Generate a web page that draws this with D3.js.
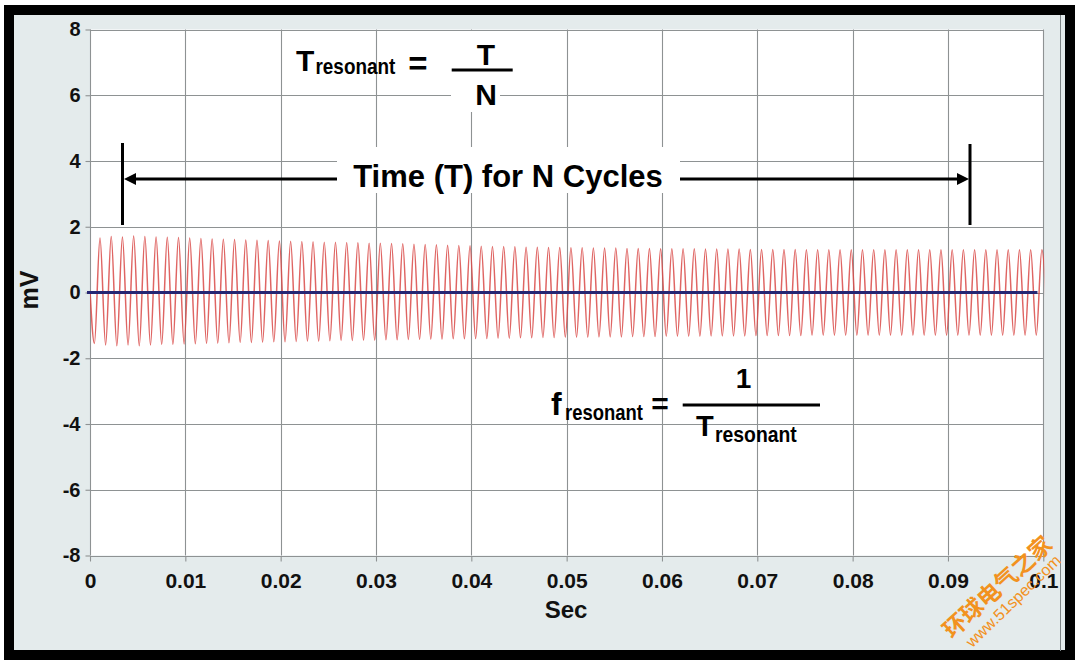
<!DOCTYPE html>
<html><head><meta charset="utf-8">
<script src="https://cdn.jsdelivr.net/npm/d3@7"></script>
<style>html,body{margin:0;padding:0;background:#fff;} svg{display:block;}</style>
</head><body><svg id="c" width="1080" height="666"></svg>
<script>
// ---------------- data ----------------
const xTicks = [0, 0.01, 0.02, 0.03, 0.04, 0.05, 0.06, 0.07, 0.08, 0.09, 0.1];
const xTickLabels = ["0", "0.01", "0.02", "0.03", "0.04", "0.05", "0.06", "0.07", "0.08", "0.09", "0.1"];
const yTicks = [-8, -6, -4, -2, 0, 2, 4, 6, 8];
const yTickLabels = ["-8", "-6", "-4", "-2", "0", "2", "4", "6", "8"];
const xTitle = "Sec";
const yTitle = "mV";
// measured timing of the ringing waveform (s)
const firstPeakTime = 0.00105;
const cyclePeriod = 0.0011762;
const startValue = 0.05;
// successive positive peaks (mV)
const peakValues = [
  1.66,1.70,1.69,1.72,1.70,1.69,1.68,1.67,1.66,1.64,
  1.63,1.62,1.61,1.60,1.59,1.58,1.57,1.56,1.55,1.54,
  1.53,1.53,1.52,1.51,1.50,1.50,1.49,1.48,1.47,1.46,
  1.45,1.44,1.43,1.42,1.41,1.40,1.40,1.39,1.38,1.38,
  1.37,1.37,1.36,1.36,1.35,1.35,1.35,1.34,1.34,1.34,
  1.33,1.33,1.33,1.33,1.32,1.32,1.32,1.32,1.31,1.31,
  1.31,1.31,1.31,1.30,1.30,1.30,1.30,1.30,1.30,1.30,
  1.30,1.30,1.30,1.30,1.30,1.30,1.30,1.30,1.30,1.30,
  1.30,1.30,1.30,1.30,1.30];
// successive negative troughs (mV), the first one precedes the first peak
const troughValues = [
  -1.55,-1.60,-1.62,-1.60,-1.62,-1.60,-1.58,-1.58,-1.57,-1.56,
  -1.55,-1.54,-1.53,-1.52,-1.52,-1.51,-1.50,-1.50,-1.49,-1.48,
  -1.48,-1.47,-1.46,-1.46,-1.45,-1.45,-1.44,-1.44,-1.43,-1.43,
  -1.42,-1.42,-1.41,-1.41,-1.40,-1.40,-1.39,-1.39,-1.38,-1.38,
  -1.37,-1.37,-1.36,-1.36,-1.36,-1.35,-1.35,-1.35,-1.34,-1.34,
  -1.34,-1.33,-1.33,-1.33,-1.33,-1.32,-1.32,-1.32,-1.32,-1.31,
  -1.31,-1.31,-1.31,-1.31,-1.30,-1.30,-1.30,-1.30,-1.30,-1.30,
  -1.30,-1.30,-1.30,-1.30,-1.30,-1.30,-1.30,-1.30,-1.30,-1.30,
  -1.30,-1.30,-1.30,-1.30,-1.30,-1.30];
const baselineSeries = [[0, 0], [0.0997, 0]];

// ---------------- drawing ----------------
const svg = d3.select("#c");
const FONT = "'Liberation Sans', Arial, Helvetica, sans-serif";

// frame
svg.append("rect").attr("x", 0).attr("y", 0).attr("width", 1080).attr("height", 666).attr("fill", "#fff");
svg.append("rect").attr("x", 9).attr("y", 10).attr("width", 1061).attr("height", 645)
  .attr("fill", "#e4ebec").attr("stroke", "#000").attr("stroke-width", 10);
svg.append("line").attr("x1", 1060.5).attr("x2", 1060.5).attr("y1", 15).attr("y2", 651)
  .attr("stroke", "#7d8486").attr("stroke-width", 1);

const x = d3.scaleLinear().domain([0, 0.1]).range([90, 1043.3]);
const y = d3.scaleLinear().domain([-8, 8]).range([555.5, 29.5]);

const [x0, x1] = x.range(), [y0, y1] = y.range();
svg.append("rect").attr("x", x0).attr("y", y1).attr("width", x1 - x0).attr("height", y0 - y1).attr("fill", "#fff");

const gridColor = "#8e9293";
const grid = svg.append("g");
grid.selectAll("line.v").data(xTicks).enter().append("line")
  .attr("x1", d => Math.round(x(d)) + 0.5).attr("x2", d => Math.round(x(d)) + 0.5)
  .attr("y1", y(8)).attr("y2", y(-8)).attr("stroke", gridColor).attr("stroke-width", 1.1);
grid.selectAll("line.h").data(yTicks).enter().append("line")
  .attr("y1", d => Math.round(y(d)) + 0.5).attr("y2", d => Math.round(y(d)) + 0.5)
  .attr("x1", x(0)).attr("x2", x(0.1)).attr("stroke", gridColor).attr("stroke-width", 1.1);

// axes
const yAxis = svg.append("g").attr("transform", `translate(${Math.round(x0) + 0.5},0)`)
  .call(d3.axisLeft(y).tickValues(yTicks).tickFormat((d, i) => yTickLabels[i]).tickSize(5).tickPadding(5));
const xAxis = svg.append("g").attr("transform", `translate(0,${Math.round(y0) + 0.5})`)
  .call(d3.axisBottom(x).tickValues(xTicks).tickFormat((d, i) => xTickLabels[i]).tickSize(5).tickPadding(12));
[yAxis, xAxis].forEach(g => {
  g.select(".domain").remove();
  g.selectAll(".tick line").attr("stroke", gridColor).attr("stroke-width", 1.1);
  g.selectAll(".tick text").attr("font-family", FONT).attr("font-weight", "bold").attr("fill", "#111");
});
yAxis.selectAll(".tick text").attr("font-size", 20);
xAxis.selectAll(".tick text").attr("font-size", 21);

// axis titles
svg.append("text").attr("x", 566).attr("y", 618).attr("text-anchor", "middle")
  .attr("font-family", FONT).attr("font-weight", "bold").attr("font-size", 24).attr("fill", "#111").text(xTitle);
svg.append("text").attr("transform", "translate(38,290) rotate(-90)").attr("text-anchor", "middle")
  .attr("font-family", FONT).attr("font-weight", "bold").attr("font-size", 25).attr("fill", "#111").text(yTitle);

// waveform
svg.append("clipPath").attr("id", "clip").append("rect")
  .attr("x", x0).attr("y", y1).attr("width", x1 - x0 + 1).attr("height", y0 - y1);
const wave = [[0, startValue]];
troughValues.forEach((tv, k) => {
  wave.push([firstPeakTime + (k - 0.5) * cyclePeriod, tv]);
  if (k < peakValues.length) wave.push([firstPeakTime + k * cyclePeriod, peakValues[k]]);
});
const line = d3.line().x(d => x(d[0])).y(d => y(d[1])).curve(d3.curveMonotoneX);
svg.append("path").datum(wave).attr("clip-path", "url(#clip)")
  .attr("d", line).attr("fill", "none").attr("stroke", "#d94a48").attr("stroke-width", 1.5).attr("stroke-opacity", 0.85);
svg.append("path").datum(baselineSeries).attr("d", d3.line().x(d => x(d[0]) - 3).y(d => y(d[1])))
  .attr("stroke", "#262673").attr("stroke-width", 3).attr("fill", "none");

// ---------- annotations ----------
const ann = svg.append("g");
const black = "#000";
// vertical end bars
ann.append("line").attr("x1", 122.5).attr("x2", 122.5).attr("y1", 143).attr("y2", 225).attr("stroke", black).attr("stroke-width", 3);
ann.append("line").attr("x1", 970).attr("x2", 970).attr("y1", 144).attr("y2", 225).attr("stroke", black).attr("stroke-width", 3);
// arrow line
ann.append("line").attr("x1", 130).attr("x2", 962).attr("y1", 179).attr("y2", 179).attr("stroke", black).attr("stroke-width", 3);
ann.append("path").attr("d", "M124,179 L136,173 L136,185 Z").attr("fill", black);
ann.append("path").attr("d", "M969,179 L957,173 L957,185 Z").attr("fill", black);
ann.append("rect").attr("x", 337).attr("y", 147).attr("width", 343).attr("height", 46).attr("fill", "#fff");
ann.append("text").attr("x", 508).attr("y", 187).attr("text-anchor", "middle")
  .attr("font-family", FONT).attr("font-weight", "bold").attr("font-size", 31).attr("fill", black)
  .text("Time (T) for N Cycles");

const bold = (sel) => sel.attr("font-family", FONT).attr("font-weight", "bold").attr("fill", black);
// condensed subscript: horizontally squeezed bold text
const sub = (px, py, sx) => bold(ann.append("text")
  .attr("transform", `translate(${px},${py}) scale(${sx},1)`).attr("font-size", 22).text("resonant"));

// formula 1 : T_resonant = T / N
ann.append("rect").attr("x", 451).attr("y", 31).attr("width", 49).attr("height", 81).attr("fill", "#fff");
bold(ann.append("text").attr("x", 296).attr("y", 70.7).attr("font-size", 30).text("T"));
sub(315.5, 73.5, 0.86);
bold(ann.append("text").attr("x", 418).attr("y", 75).attr("text-anchor", "middle").attr("font-size", 33).text("="));
ann.append("line").attr("x1", 451.7).attr("x2", 512.7).attr("y1", 70).attr("y2", 70).attr("stroke", black).attr("stroke-width", 3);
bold(ann.append("text").attr("x", 486).attr("y", 65).attr("text-anchor", "middle").attr("font-size", 30).text("T"));
bold(ann.append("text").attr("x", 486).attr("y", 105).attr("text-anchor", "middle").attr("font-size", 30).text("N"));

// formula 2 : f_resonant = 1 / T_resonant
bold(ann.append("text").attr("x", 551).attr("y", 415).attr("font-size", 32).text("f"));
sub(565, 420, 0.84);
bold(ann.append("text").attr("x", 660).attr("y", 413.5).attr("text-anchor", "middle").attr("font-size", 30).text("="));
ann.append("line").attr("x1", 682.7).attr("x2", 820).attr("y1", 405).attr("y2", 405).attr("stroke", black).attr("stroke-width", 3);
bold(ann.append("text").attr("x", 743.5).attr("y", 388).attr("text-anchor", "middle").attr("font-size", 28).text("1"));
bold(ann.append("text").attr("x", 696).attr("y", 436).attr("font-size", 29).text("T"));
sub(715, 442, 0.88);

// watermark
svg.append("text").attr("transform", "translate(1003,593) rotate(-42.4)").attr("text-anchor", "middle")
  .attr("font-family", "'Noto Sans CJK SC', sans-serif").attr("font-weight", "bold").attr("font-size", 23)
  .attr("fill", "#f2921f").text("环球电气之家");
svg.append("text").attr("transform", "translate(1017,605) rotate(-44)").attr("text-anchor", "middle")
  .attr("font-family", FONT).attr("font-size", 16).attr("fill", "#f2921f").text("www.51spec.com");
</script>
</body></html>
